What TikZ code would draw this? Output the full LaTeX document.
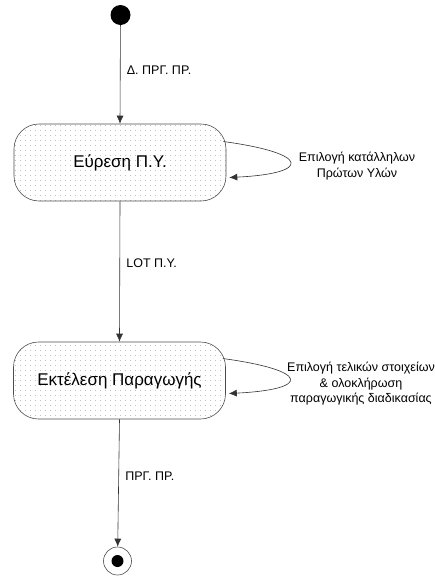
\documentclass[tikz,border=0pt]{standalone}
\usepackage{fontspec}
\setmainfont{Liberation Sans}
\usetikzlibrary{arrows.meta,patterns.meta,positioning}
\tikzdeclarepattern{name=griddots, type=uncolored,
  bounding box={(0,0) and (5pt,5pt)}, tile size={(5pt,5pt)},
  code={\fill (0,0) rectangle (1pt,1pt);}}
\begin{document}
\begin{tikzpicture}[x=1pt,y=-1pt,
  state/.style={draw=black!70, line width=0.6pt, rounded corners=25pt,
    minimum width=212pt, minimum height=77pt,
    pattern=griddots, pattern color=black!25,
    font=\fontsize{17}{20}\selectfont},
  flow/.style={draw=black!80, line width=0.6pt, -{Latex[length=8pt,width=7pt]}},
  lbl/.style={font=\fontsize{12.5}{15.5}\selectfont, align=center}]
\useasboundingbox (0,0) rectangle (435,576);
% states
\node[circle, fill=black, minimum size=20pt, inner sep=0pt] (start) at (120.5,15) {};
\node[state] (find) at (120,162.5) {Εύρεση Π.Υ.};
\node[state] (prod) at (119.5,380.5) {Εκτέλεση Παραγωγής};
\node[circle, draw=black!70, line width=0.6pt, minimum size=28pt, inner sep=0pt] (stop) at (117.5,561) {};
\node[circle, fill=black, minimum size=12pt, inner sep=0pt] (stopdot) at (stop) {};
% transitions
\draw[flow] (start) -- node[lbl, right=3pt, pos=0.46] {Δ. ΠΡΓ. ΠΡ.} (find.north);
\draw[flow] (find.south) -- node[lbl, right=3pt, pos=0.44] {LOT Π.Υ.} (prod.north);
\draw[flow] (prod.south) -- node[lbl, right=3pt, pos=0.45] {ΠΡΓ. ΠΡ.} (stop);
% self loops
\coordinate (f1) at ([xshift=-3pt,yshift=21pt]find.east);
\coordinate (f2) at ([xshift=3pt,yshift=-15pt]find.east);
\draw[flow] (f1) .. controls +(88,12) and +(82,-4) .. (f2);
\node[lbl] (findnote) at (357,166) {Επιλογή κατάλληλων\\Πρώτων Υλών};
\coordinate (p1) at ([xshift=-3pt,yshift=22pt]prod.east);
\coordinate (p2) at ([xshift=3pt,yshift=-13pt]prod.east);
\draw[flow] (p1) .. controls +(88,12) and +(82,-4) .. (p2);
\node[lbl] (prodnote) at (361,384) {Επιλογή τελικών στοιχείων\\\& ολοκλήρωση\\παραγωγικής διαδικασίας};
\end{tikzpicture}
\end{document}
